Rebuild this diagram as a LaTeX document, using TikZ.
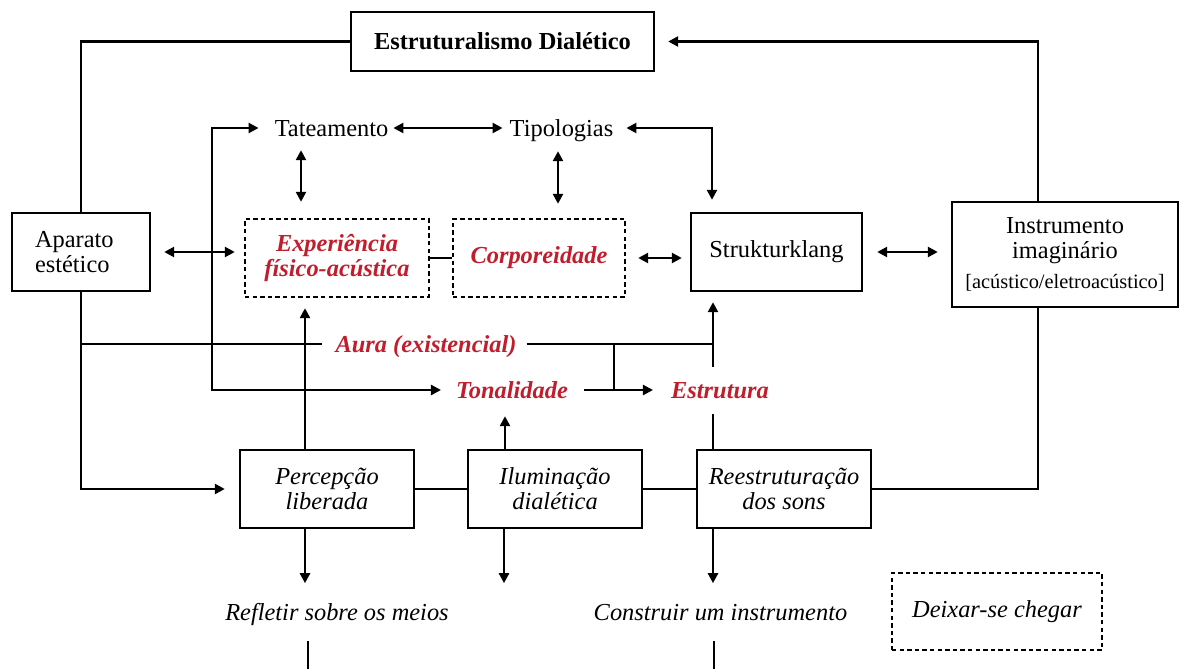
\documentclass[tikz,border=0pt]{standalone}
\usepackage{fontspec}
\setmainfont{Liberation Serif}
\usetikzlibrary{arrows.meta}
\definecolor{dred}{RGB}{192,30,45}
\newcommand\myfs{\fontsize{12.2}{12.5}\selectfont}
\begin{document}
\begin{tikzpicture}[x=0.5pt,y=-0.5pt, line width=1.2pt,
  >={Triangle[length=5pt,width=5pt]},
  box/.style={draw, rectangle, inner sep=0pt, align=center, font=\myfs},
  dbox/.style={box, dash pattern=on 2.2pt off 1.6pt},
  lbl/.style={inner sep=0pt, text height=8pt, text depth=0pt, font=\myfs},
  redf/.style={text=dred, font=\myfs\bfseries\itshape},
  itf/.style={font=\myfs\itshape}]
\useasboundingbox (0,0) rectangle (1180,669);

% boxes
\node[box, minimum width=151.5pt, minimum height=29.5pt, font=\myfs\bfseries] (ed) at (502.5,41.5) {Estruturalismo Dialético};
\node[box, minimum height=39pt, text width=46pt, inner xsep=11.5pt, align=left] (ap) at (81,252) {Aparato\\estético};
\node[dbox, minimum width=92pt, minimum height=39pt, redf] (exp) at (337,258) {Experiência\\físico-acústica};
\node[dbox, minimum width=86pt, minimum height=39pt, redf] (corp) at (539,258) {Corporeidade};
\node[box, minimum width=85.5pt, minimum height=39pt] (st) at (776.5,252) {Strukturklang};
\node[box, minimum width=113pt, minimum height=52.5pt] (in) at (1065,254.5) {Instrumento\\imaginário\\[2.5pt]{\fontsize{10.2}{11}\selectfont [acústico/eletroacústico]}};
\node[box, minimum width=87pt, minimum height=39pt, itf] (pe) at (327,489) {Percepção\\liberada};
\node[box, minimum width=87pt, minimum height=39pt, itf] (il) at (555,489) {Iluminação\\dialética};
\node[box, minimum width=87pt, minimum height=39pt, itf] (re) at (784,489) {Reestruturação\\dos sons};
\node[dbox, minimum width=105pt, minimum height=38.5pt, itf] (dx) at (997,611.5) {Deixar-se chegar};

% free labels
\node[lbl] (tat) at (331.5,128) {Tateamento};
\node[lbl] (tip) at (561.5,128) {Tipologias};
\node[lbl, redf] (aura) at (426,344) {Aura (existencial)};
\node[lbl, redf] (ton) at (512,390) {Tonalidade};
\node[lbl, redf] (est) at (720,390) {Estrutura};
\node[lbl, itf] (refl) at (337,612) {Refletir sobre os meios};
\node[lbl, itf] (con) at (720.5,612) {Construir um instrumento};

% connectors
\draw (ed.west) -| (ap.north);
\draw[->, shorten >=6.5pt] ([xshift=-13.5pt]in.north) |- (ed.east);

\coordinate (lb) at (212,390);
\draw[<->, shorten <=7.5pt, shorten >=7pt] (tat.west) -| (lb) -- (ton.west);
\draw[<->, shorten <=2pt, shorten >=3pt] (tat.east) -- (tip.west);
\draw[<->, shorten <=6.5pt, shorten >=8pt] ([xshift=-15.25pt]tat.south) -- ([xshift=-15.25pt]tat.south |- exp.north);
\draw[<->, shorten <=7pt, shorten >=7pt] ([xshift=-1.75pt]tip.south) -- ([xshift=-1.75pt]tip.south |- corp.north);
\draw[<->, shorten <=6pt, shorten >=6pt] (tip.east) -| ([xshift=-32.25pt]st.north);

\draw[<->, shorten <=6.5pt, shorten >=4.5pt] (ap.east) -- (ap.east -| exp.west);
\draw (exp.east) -- (corp.west);
\draw[<->, shorten <=6pt, shorten >=4pt] (corp.east) -- (corp.east -| st.west);
\draw[<->, shorten <=7pt, shorten >=6.5pt] (st.east) -- (st.east -| in.west);

\draw[->, shorten >=7pt] (ap.south) |- (pe.west);
\draw[shorten >=6pt] (ap.south |- aura.west) -- (aura.west);
\coordinate (u1) at (713,367);
\draw[shorten <=4.5pt] (aura.east) -- (u1 |- aura.east);
\draw[->, shorten >=5pt] (u1) -- (u1 |- st.south);
\draw (re.north -| u1) -- ++(0,-35);
\coordinate (jx) at (614,344);
\draw (jx) -- (jx |- ton.east);
\draw[->, shorten <=7.5pt, shorten >=8.5pt] (ton.east) -- (est.west);

\draw[->, shorten >=5pt] ([xshift=-11pt]pe.north) -- ([xshift=-11pt]pe.north |- exp.south);
\draw[->, shorten >=8.5pt] ([xshift=-25pt]il.north) -- ([xshift=-25pt]il.north |- ton.south);

\draw (pe.east) -- (il.west);
\draw (il.east) -- (re.west);
\draw (re.east) -| ([xshift=-13.5pt]in.south);

\draw[->] ([xshift=-11pt]pe.south) -- ++(0,54);
\draw[->] ([xshift=-25.5pt]il.south) -- ++(0,54);
\draw[->] ([xshift=-35.5pt]re.south) -- ++(0,54);
\draw[shorten <=10pt] ([xshift=-14.5pt]refl.south) -- ++(0,50);
\draw[shorten <=10pt] ([xshift=-3.25pt]con.south) -- ++(0,50);
\end{tikzpicture}
\end{document}
